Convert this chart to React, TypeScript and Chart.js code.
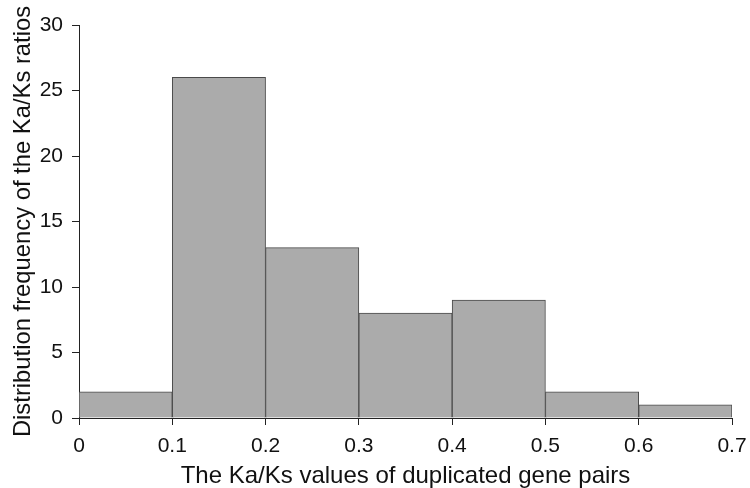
import React, { useEffect, useRef } from "react";
import { Chart, registerables } from "chart.js";

Chart.register(...registerables);

const binStarts = [0, 0.1, 0.2, 0.3, 0.4, 0.5, 0.6];
const binWidth = 0.1;
const counts = [2, 26, 13, 8, 9, 2, 1];
const xTitle = "The Ka/Ks values of duplicated gene pairs";
const yTitle = "Distribution frequency of the Ka/Ks ratios";

const FONT = "'Liberation Sans', Arial, Helvetica, sans-serif";

export default function App() {
  const ref = useRef<HTMLCanvasElement | null>(null);

  useEffect(() => {
    document.body.style.margin = "0";
    const ctx = ref.current!.getContext("2d")!;
    const chart = new Chart(ctx, {
      type: "bar",
      data: {
        datasets: [
          {
            data: binStarts.map((s, i) => ({ x: s + binWidth / 2, y: counts[i] })),
            backgroundColor: "#ababab",
            borderColor: "#4a4a4a",
            borderWidth: 1,
            barPercentage: 1,
            categoryPercentage: 1,
          },
        ],
      },
      options: {
        animation: false,
        responsive: false,
        maintainAspectRatio: false,
        layout: { padding: { left: 0, top: 25, right: 18, bottom: 0 } },
        plugins: { legend: { display: false }, tooltip: { enabled: false } },
        scales: {
          x: {
            type: "linear",
            min: 0,
            max: 0.7,
            offset: false,
            afterFit: (s: any) => {
              s.height = 70;
              s.paddingLeft = 0;
              s.paddingRight = 0;
            },
            border: { display: true, color: "#222", width: 1 },
            grid: { display: true, drawOnChartArea: false, drawTicks: true, tickLength: 7, color: "#222", offset: false },
            ticks: {
              stepSize: 0.1,
              padding: 9,
              color: "#111",
              font: { family: FONT, size: 21 },
              callback: (v: any) => String(Number(Number(v).toFixed(1))),
            },
            title: {
              display: true,
              text: xTitle,
              color: "#111",
              font: { family: FONT, size: 24, lineHeight: 1 },
              padding: { top: 0, bottom: 0 },
            },
          },
          y: {
            min: 0,
            max: 30,
            afterFit: (s: any) => {
              s.width = 79;
              s.paddingTop = 0;
              s.paddingBottom = 0;
            },
            border: { display: true, color: "#222", width: 1 },
            grid: { display: true, drawOnChartArea: false, drawTicks: true, tickLength: 7, color: "#222" },
            ticks: {
              stepSize: 5,
              padding: 9,
              color: "#111",
              font: { family: FONT, size: 21 },
            },
            title: {
              display: true,
              text: yTitle,
              color: "#111",
              font: { family: FONT, size: 23.8, lineHeight: 1 },
              padding: { top: 12, bottom: 0 },
            },
          },
        },
      },
    });
    return () => chart.destroy();
  }, []);

  return (
    <div style={{ position: "fixed", left: 0, top: 0, width: 750, height: 488, background: "#fff" }}>
      <canvas ref={ref} width={750} height={488} style={{ width: 750, height: 488 }} />
    </div>
  );
}
